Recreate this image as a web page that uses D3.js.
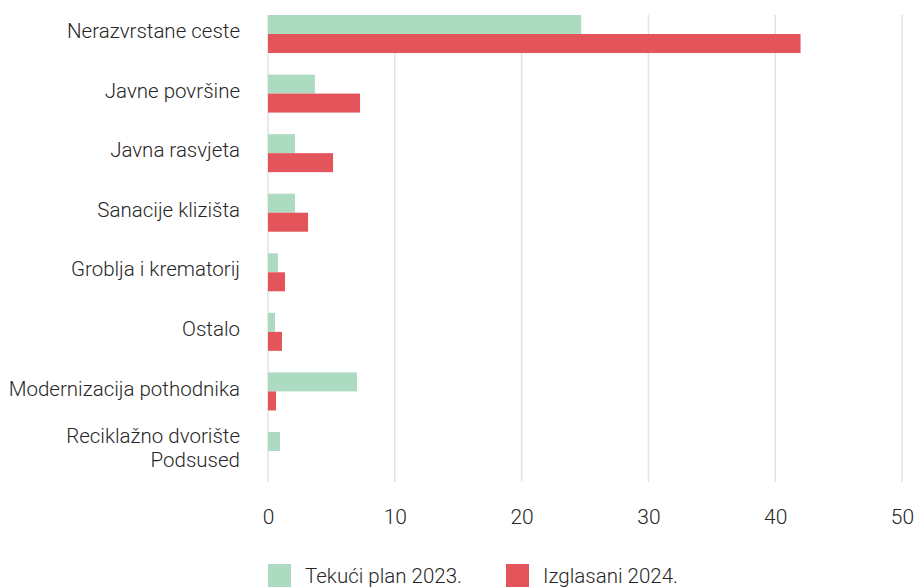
<!DOCTYPE html>
<html>
<head>
  <meta charset="utf-8" />
  <title>Chart</title>
  <script src="https://cdnjs.cloudflare.com/ajax/libs/d3/7.8.5/d3.min.js"></script>
  <style>
    body { margin: 0; background: #fff; }
    text { font-family: Roboto, "Noto Sans", sans-serif; font-weight: 300; fill: #262626; }
  </style>
</head>
<body>
  <svg id="chart" width="918" height="587"></svg>
  <script>
    const categories = [
      ['Nerazvrstane ceste'],
      ['Javne površine'],
      ['Javna rasvjeta'],
      ['Sanacije klizišta'],
      ['Groblja i krematorij'],
      ['Ostalo'],
      ['Modernizacija pothodnika'],
      ['Reciklažno dvorište', 'Podsused']
    ]
    const plan2023 = [24.7, 3.7, 2.13, 2.13, 0.79, 0.55, 7.02, 0.95]
    const izglasani2024 = [42.0, 7.26, 5.13, 3.16, 1.34, 1.1, 0.63, 0]
    const seriesNames = ['Tekući plan 2023.', 'Izglasani 2024.']
    const seriesColors = ['#addbc2', '#e3555a']
    const xTicks = [0, 10, 20, 30, 40, 50]

    const svg = d3.select('#chart')
    const plotLeft = 268, plotRight = 902, plotTop = 15, gridBottom = 482

    const x = d3.scaleLinear().domain([0, 50]).range([plotLeft, plotRight])
    const y = d3.scaleBand()
      .domain(d3.range(categories.length))
      .range([plotTop, 470])
      .paddingInner(0.362)
      .paddingOuter(0)
      .align(0)
    const ySub = d3.scaleBand().domain([0, 1]).range([0, y.bandwidth()])

    // grid
    svg.append('g').selectAll('line')
      .data(xTicks)
      .enter().append('line')
      .attr('x1', d => x(d)).attr('x2', d => x(d))
      .attr('y1', plotTop).attr('y2', gridBottom)
      .style('stroke', '#e2e2e2')
      .style('stroke-width', '1.5px')

    const xAxis = d3.axisBottom(x).tickValues(xTicks).tickSize(0).tickPadding(0)
    const gx = svg.append('g').attr('transform', 'translate(0,524)').call(xAxis)
    gx.select('path.domain').remove()
    gx.attr('font-family', null).attr('font-size', null)
    gx.selectAll('text').style('font-size', '21px').attr('dy', 0).style('fill', '#262626')

    const series = [plan2023, izglasani2024]
    series.forEach(function(vals, s) {
      svg.append('g').selectAll('rect')
        .data(vals)
        .enter().append('rect')
        .attr('x', x(0))
        .attr('y', (d, i) => y(i) + ySub(s))
        .attr('width', d => x(d) - x(0))
        .attr('height', ySub.bandwidth())
        .style('fill', seriesColors[s])
    })

    // category labels
    svg.append('g').selectAll('text')
      .data(categories)
      .enter().append('text')
      .attr('text-anchor', 'end')
      .attr('x', 240)
      .attr('y', (d, i) => y(i) + y.bandwidth() / 2 - 3)
      .style('font-size', '20.5px')
      .each(function(lines) {
        const t = d3.select(this)
        lines.forEach(function(l, j) {
          t.append('tspan')
            .attr('x', 240)
            .attr('dy', j === 0 ? (0.35 - (lines.length - 1) * 0.6) + 'em' : '1.2em')
            .text(l)
        })
      })

    // legend
    const legX = [268, 506]
    const leg = svg.append('g').selectAll('g')
      .data(seriesNames)
      .enter().append('g')
      .attr('transform', (d, i) => 'translate(' + legX[i] + ',564)')
    leg.append('rect').attr('width', 23).attr('height', 23)
      .style('fill', (d, i) => seriesColors[i])
    leg.append('text').attr('x', 37).attr('y', 12).attr('dy', '0.35em')
      .style('font-size', '20.5px').text(d => d)
  </script>
</body>
</html>
